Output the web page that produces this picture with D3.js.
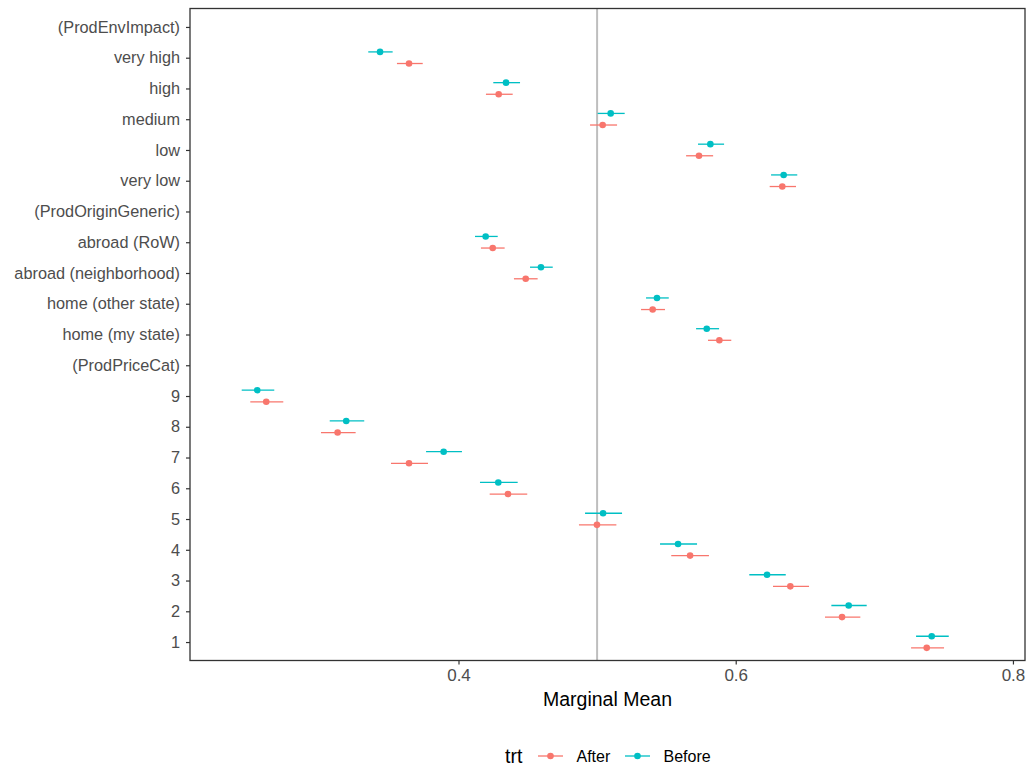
<!DOCTYPE html>
<html><head><meta charset="utf-8">
<script src="https://cdn.jsdelivr.net/npm/d3@7"></script>
<style>body{margin:0;background:#fff}</style>
</head><body><svg id="c" width="1032" height="772"></svg>
<script>
const levels = ["(ProdEnvImpact)","very high","high","medium","low","very low","(ProdOriginGeneric)","abroad (RoW)","abroad (neighborhood)","home (other state)","home (my state)","(ProdPriceCat)","9","8","7","6","5","4","3","2","1"];
const groups = ["After","Before"];
const colors = ["#F8766D","#00BFC4"];
// Before values
const beforeLevel = ["very high","high","medium","low","very low","abroad (RoW)","abroad (neighborhood)","home (other state)","home (my state)","9","8","7","6","5","4","3","2","1"];
const beforeMean  = [0.3434,0.4343,0.5098,0.5817,0.6346,0.4196,0.4595,0.5432,0.5791,0.2548,0.3190,0.3893,0.4287,0.5043,0.5584,0.6226,0.6815,0.7414];
const beforeLower = [0.3349,0.4251,0.5004,0.5728,0.6255,0.4119,0.4516,0.5353,0.5714,0.2436,0.3071,0.3766,0.4155,0.4913,0.5454,0.6098,0.6690,0.7301];
const beforeUpper = [0.3525,0.4444,0.5199,0.5916,0.6444,0.4283,0.4680,0.5517,0.5880,0.2671,0.3320,0.4025,0.4427,0.5180,0.5721,0.6361,0.6945,0.7537];
// After values
const afterMean  = [0.3643,0.4290,0.5040,0.5735,0.6336,0.4247,0.4485,0.5401,0.5882,0.2613,0.3128,0.3643,0.4357,0.4999,0.5671,0.6394,0.6767,0.7378];
const afterLower = [0.3556,0.4198,0.4949,0.5642,0.6245,0.4162,0.4400,0.5317,0.5800,0.2498,0.3008,0.3513,0.4225,0.4869,0.5535,0.6269,0.6644,0.7265];
const afterUpper = [0.3742,0.4391,0.5144,0.5837,0.6435,0.4333,0.4571,0.5490,0.5968,0.2736,0.3258,0.3780,0.4496,0.5139,0.5807,0.6529,0.6899,0.7503];
const xTicks = [0.4,0.6,0.8];
const refLine = 0.5;

const data = [];
beforeLevel.forEach((l,i)=>{
  data.push({level:l, trt:"Before", m:beforeMean[i], lo:beforeLower[i], hi:beforeUpper[i]});
  data.push({level:l, trt:"After", m:afterMean[i], lo:afterLower[i], hi:afterUpper[i]});
});

const FONT = "Liberation Sans, Arial, sans-serif";
const svg = d3.select("#c");
const L=190, R=1025, T=8.5, B=660.5;
const x = d3.scaleLinear().domain([0.2063,0.8087]).range([L,R]);
const y = d3.scalePoint().domain(levels).range([T,B]).padding(0.6);
const col = d3.scaleOrdinal().domain(groups).range(colors);
const dodge = {Before:-5.8, After:5.8};

svg.append("line").attr("x1",x(refLine)).attr("x2",x(refLine)).attr("y1",T).attr("y2",B)
  .attr("stroke","#BEBEBE").attr("stroke-width",2);

const g = svg.append("g");
g.selectAll("line.eb").data(data).join("line").attr("class","eb")
  .attr("x1",d=>x(d.lo)).attr("x2",d=>x(d.hi))
  .attr("y1",d=>y(d.level)+dodge[d.trt]).attr("y2",d=>y(d.level)+dodge[d.trt])
  .attr("stroke",d=>col(d.trt)).attr("stroke-width",1.3);
g.selectAll("circle").data(data).join("circle")
  .attr("cx",d=>x(d.m)).attr("cy",d=>y(d.level)+dodge[d.trt]).attr("r",3.3)
  .attr("fill",d=>col(d.trt));

svg.append("rect").attr("x",L).attr("y",T).attr("width",R-L).attr("height",B-T)
  .attr("fill","none").attr("stroke","#333333").attr("stroke-width",1.3);

const xa = svg.append("g").attr("transform",`translate(0,${B})`)
  .call(d3.axisBottom(x).tickValues(xTicks).tickFormat(d3.format(".1f")).tickSizeOuter(0).tickSizeInner(4).tickPadding(4));
xa.select(".domain").remove();
xa.selectAll("line").attr("stroke","#333333").attr("stroke-width",1.2);
xa.selectAll("text").attr("fill","#4D4D4D").style("font-family",FONT).style("font-size","17px");

const ya = svg.append("g").attr("transform",`translate(${L},0)`)
  .call(d3.axisLeft(y).tickSizeOuter(0).tickSizeInner(4).tickPadding(6));
ya.select(".domain").remove();
ya.selectAll("line").attr("stroke","#333333").attr("stroke-width",1.2);
ya.selectAll("text").attr("fill","#4D4D4D").style("font-family",FONT).style("font-size","16.3px");

svg.append("text").attr("x",(L+R)/2).attr("y",706).attr("text-anchor","middle")
  .style("font-family",FONT).style("font-size","19.5px").attr("fill","#000")
  .text("Marginal Mean");

// legend
const lg = svg.append("g").style("font-family",FONT);
lg.append("text").attr("x",505).attr("y",763).style("font-size","19.5px").text("trt");
const keyX = [538, 625];
groups.forEach((gname,i)=>{
  const kx = keyX[i];
  lg.append("line").attr("x1",kx).attr("x2",kx+25).attr("y1",756).attr("y2",756).attr("stroke",colors[i]).attr("stroke-width",1.3);
  lg.append("circle").attr("cx",kx+12.5).attr("cy",756).attr("r",3.3).attr("fill",colors[i]);
  lg.append("text").attr("x",kx+38.5).attr("y",762).style("font-size","16px").attr("fill","#000").text(gname);
});
</script></body></html>
